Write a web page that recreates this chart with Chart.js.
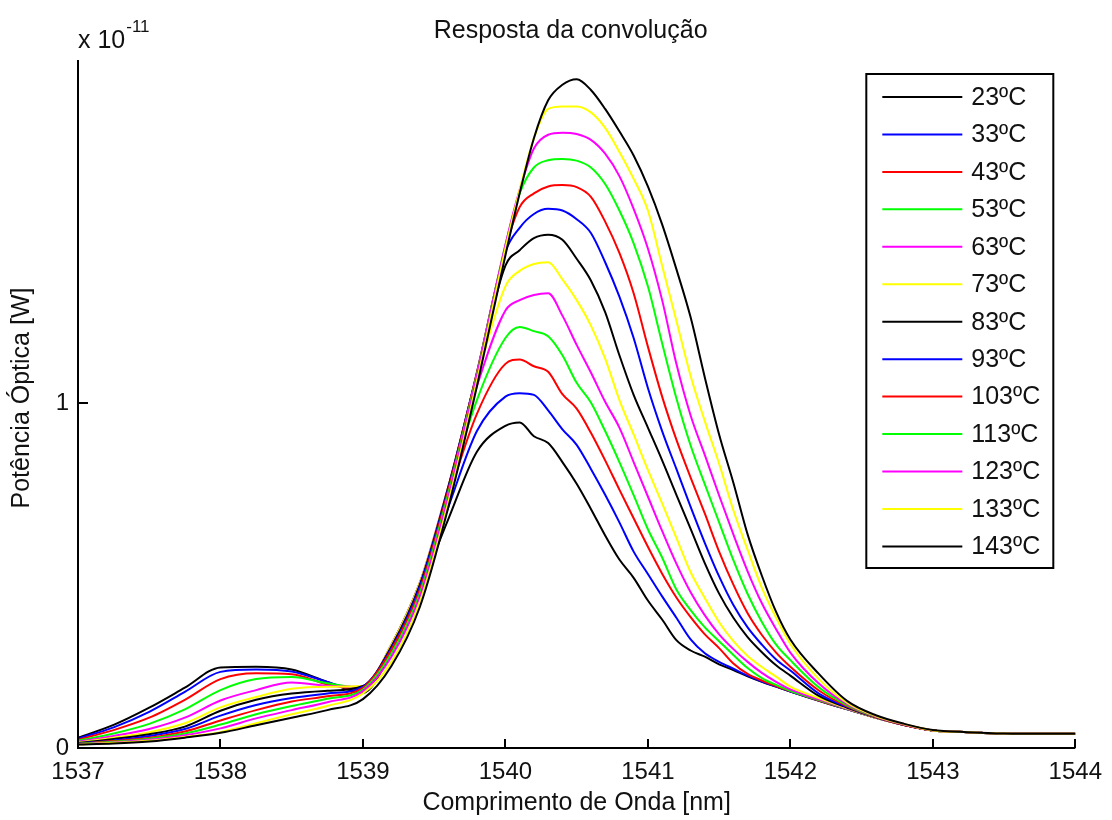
<!DOCTYPE html>
<html>
<head>
<meta charset="utf-8">
<script src="https://cdn.jsdelivr.net/npm/chart.js@4.4.1/dist/chart.umd.min.js"></script>
<style>
  html, body { margin: 0; padding: 0; background: #ffffff; }
  canvas { display: block; }
</style>
</head>
<body>
<canvas id="grafico" width="1112" height="820"></canvas>
<script>
// Comprimento de onda [nm]
const comprimentoOnda = [
  1537.0, 1537.25, 1537.5, 1537.75, 1538.0, 1538.25, 1538.5, 1538.75, 1539.0,
  1539.2, 1539.4, 1539.6, 1539.8, 1540.0, 1540.1, 1540.2, 1540.3, 1540.4, 1540.5,
  1540.6, 1540.7, 1540.8, 1540.9, 1541.0, 1541.1, 1541.2, 1541.3, 1541.4, 1541.5,
  1541.6, 1541.7, 1541.8, 1541.9, 1542.0, 1542.2, 1542.4, 1542.6, 1542.8,
  1543.0, 1543.25, 1543.5, 1543.75, 1544.0
];

// Potência óptica em unidades de 1e-11 W, uma série por temperatura
const p23 = [0.030, 0.067, 0.117, 0.175, 0.234, 0.236, 0.228, 0.192, 0.160,
  0.280, 0.460, 0.665, 0.860, 0.935, 0.945, 0.905, 0.885, 0.830, 0.767,
  0.694, 0.617, 0.547, 0.494, 0.428, 0.373, 0.313, 0.283, 0.265, 0.243,
  0.226, 0.208, 0.192, 0.178, 0.164, 0.137, 0.112, 0.088, 0.067,
  0.051, 0.046, 0.042, 0.041, 0.041];
const p33 = [0.027, 0.060, 0.105, 0.163, 0.221, 0.228, 0.222, 0.192, 0.165,
  0.290, 0.470, 0.700, 0.920, 1.020, 1.030, 1.025, 0.980, 0.925, 0.880,
  0.810, 0.735, 0.655, 0.570, 0.505, 0.440, 0.378, 0.315, 0.275, 0.250,
  0.230, 0.210, 0.193, 0.178, 0.164, 0.138, 0.112, 0.088, 0.067,
  0.051, 0.046, 0.042, 0.041, 0.041];
const p43 = [0.024, 0.052, 0.088, 0.140, 0.200, 0.217, 0.214, 0.185, 0.170,
  0.300, 0.480, 0.730, 0.970, 1.115, 1.128, 1.108, 1.092, 1.027, 0.985,
  0.915, 0.835, 0.750, 0.667, 0.584, 0.506, 0.437, 0.380, 0.330, 0.290,
  0.245, 0.215, 0.196, 0.180, 0.165, 0.138, 0.113, 0.088, 0.067,
  0.051, 0.046, 0.042, 0.041, 0.041];
const p53 = [0.021, 0.042, 0.070, 0.112, 0.168, 0.200, 0.206, 0.188, 0.175,
  0.300, 0.480, 0.750, 1.010, 1.190, 1.222, 1.210, 1.195, 1.140, 1.060,
  1.003, 0.920, 0.830, 0.734, 0.635, 0.553, 0.460, 0.400, 0.350, 0.310,
  0.270, 0.232, 0.203, 0.183, 0.166, 0.139, 0.113, 0.088, 0.067,
  0.051, 0.046, 0.042, 0.041, 0.041];
const p63 = [0.018, 0.035, 0.055, 0.088, 0.138, 0.168, 0.190, 0.180, 0.178,
  0.300, 0.480, 0.760, 1.050, 1.270, 1.300, 1.315, 1.320, 1.255, 1.170,
  1.090, 1.005, 0.930, 0.830, 0.730, 0.630, 0.535, 0.452, 0.385, 0.330,
  0.287, 0.250, 0.218, 0.192, 0.170, 0.141, 0.114, 0.088, 0.067,
  0.051, 0.046, 0.042, 0.041, 0.041];
const p73 = [0.016, 0.030, 0.046, 0.072, 0.118, 0.148, 0.172, 0.178, 0.180,
  0.300, 0.480, 0.760, 1.070, 1.340, 1.385, 1.405, 1.410, 1.360, 1.300,
  1.226, 1.130, 1.010, 0.910, 0.807, 0.710, 0.610, 0.510, 0.435, 0.365,
  0.310, 0.267, 0.235, 0.207, 0.178, 0.145, 0.115, 0.088, 0.067,
  0.051, 0.046, 0.042, 0.041, 0.041];
const p83 = [0.014, 0.026, 0.040, 0.062, 0.108, 0.140, 0.158, 0.166, 0.180,
  0.295, 0.475, 0.760, 1.085, 1.400, 1.445, 1.480, 1.490, 1.475, 1.420,
  1.357, 1.265, 1.140, 1.025, 0.930, 0.835, 0.735, 0.636, 0.536, 0.448,
  0.378, 0.322, 0.278, 0.240, 0.210, 0.151, 0.117, 0.089, 0.067,
  0.051, 0.046, 0.042, 0.041, 0.041];
const p93 = [0.013, 0.022, 0.035, 0.055, 0.094, 0.125, 0.145, 0.158, 0.178,
  0.290, 0.470, 0.755, 1.090, 1.440, 1.510, 1.550, 1.565, 1.560, 1.535,
  1.495, 1.410, 1.310, 1.190, 1.045, 0.920, 0.810, 0.700, 0.595, 0.498,
  0.415, 0.350, 0.300, 0.257, 0.225, 0.158, 0.119, 0.089, 0.067,
  0.051, 0.046, 0.042, 0.041, 0.041];
const p103 = [0.012, 0.020, 0.030, 0.048, 0.080, 0.110, 0.135, 0.150, 0.175,
  0.285, 0.460, 0.750, 1.090, 1.450, 1.570, 1.610, 1.630, 1.634, 1.628,
  1.600, 1.528, 1.437, 1.320, 1.165, 1.020, 0.895, 0.785, 0.680, 0.570,
  0.474, 0.391, 0.328, 0.277, 0.236, 0.167, 0.121, 0.090, 0.067,
  0.051, 0.046, 0.042, 0.041, 0.041];
const p113 = [0.012, 0.018, 0.027, 0.042, 0.068, 0.098, 0.122, 0.143, 0.170,
  0.275, 0.450, 0.740, 1.085, 1.460, 1.610, 1.685, 1.706, 1.710, 1.705,
  1.685, 1.637, 1.560, 1.465, 1.340, 1.175, 1.015, 0.878, 0.765, 0.655,
  0.545, 0.447, 0.366, 0.300, 0.255, 0.176, 0.124, 0.091, 0.068,
  0.051, 0.046, 0.042, 0.041, 0.041];
const p123 = [0.011, 0.016, 0.024, 0.037, 0.057, 0.086, 0.110, 0.133, 0.165,
  0.265, 0.440, 0.730, 1.080, 1.460, 1.620, 1.740, 1.780, 1.786, 1.782,
  1.765, 1.725, 1.660, 1.565, 1.450, 1.300, 1.115, 0.965, 0.850, 0.733,
  0.620, 0.513, 0.420, 0.345, 0.277, 0.187, 0.127, 0.092, 0.068,
  0.051, 0.046, 0.042, 0.041, 0.041];
const p133 = [0.010, 0.015, 0.021, 0.032, 0.046, 0.072, 0.098, 0.122, 0.158,
  0.250, 0.425, 0.715, 1.065, 1.450, 1.620, 1.770, 1.855, 1.862, 1.862,
  1.845, 1.800, 1.730, 1.652, 1.560, 1.400, 1.240, 1.080, 0.948, 0.825,
  0.690, 0.575, 0.465, 0.378, 0.302, 0.200, 0.131, 0.093, 0.069,
  0.051, 0.046, 0.042, 0.041, 0.041];
const p143 = [0.010, 0.013, 0.019, 0.030, 0.044, 0.066, 0.088, 0.110, 0.142,
  0.238, 0.410, 0.700, 1.050, 1.430, 1.610, 1.770, 1.880, 1.925, 1.941,
  1.910, 1.855, 1.790, 1.720, 1.630, 1.520, 1.390, 1.250, 1.075, 0.910,
  0.770, 0.620, 0.500, 0.395, 0.315, 0.215, 0.136, 0.095, 0.070,
  0.052, 0.046, 0.042, 0.041, 0.041];

const temperaturas = ['23ºC', '33ºC', '43ºC', '53ºC', '63ºC', '73ºC', '83ºC',
  '93ºC', '103ºC', '113ºC', '123ºC', '133ºC', '143ºC'];
const potencias = [p23, p33, p43, p53, p63, p73, p83, p93, p103, p113, p123, p133, p143];

// Eixos
const xMin = 1537, xMax = 1544, xPasso = 1;
const yMin = 0, yMax = 1.997, yPasso = 1;
const expoente = '-11';

// Ciclo de cores k b r g m y
const ciclo = ['#000000', '#0000ff', '#ff0000', '#00ff00', '#ff00ff', '#ffff00'];

const FONTE = "'Liberation Sans', Arial, Helvetica, sans-serif";
const TINTA = '#111111';

const datasets = potencias.map((serie, i) => ({
  label: temperaturas[i],
  data: serie.map((v, j) => ({ x: comprimentoOnda[j], y: v })),
  borderColor: ciclo[i % ciclo.length],
  borderWidth: 2,
  pointRadius: 0,
  fill: false,
  cubicInterpolationMode: 'monotone',
  order: potencias.length - i   // séries seguintes desenhadas por cima
}));

// Eixos, marcas internas, textos e legenda no estilo MATLAB
const estiloMatlab = {
  id: 'estiloMatlab',
  afterDraw(chart) {
    const { ctx, chartArea: a, scales: { x, y } } = chart;
    ctx.save();

    // linhas dos eixos (sem caixa)
    ctx.strokeStyle = '#000';
    ctx.lineWidth = 2;
    ctx.beginPath();
    ctx.moveTo(a.left, a.top);
    ctx.lineTo(a.left, a.bottom);
    ctx.lineTo(a.right, a.bottom);
    ctx.stroke();

    // marcas voltadas para dentro
    ctx.beginPath();
    x.ticks.forEach(t => {
      const px = Math.round(x.getPixelForValue(t.value));
      ctx.moveTo(px, a.bottom);
      ctx.lineTo(px, a.bottom - 9);
    });
    y.ticks.forEach(t => {
      const py = Math.round(y.getPixelForValue(t.value));
      ctx.moveTo(a.left, py);
      ctx.lineTo(a.left + 10, py);
    });
    ctx.stroke();

    ctx.fillStyle = TINTA;

    // título
    ctx.font = '25px ' + FONTE;
    ctx.textAlign = 'center';
    ctx.textBaseline = 'middle';
    ctx.fillText('Resposta da convolução', (a.left + a.right) / 2 - 6, 31);

    // rótulo do eixo x
    ctx.fillText('Comprimento de Onda [nm]', (a.left + a.right) / 2, 803);

    // rótulo do eixo y
    ctx.save();
    ctx.translate(22, (a.top + a.bottom) / 2 - 6);
    ctx.rotate(-Math.PI / 2);
    ctx.fillText('Potência Óptica [W]', 0, 0);
    ctx.restore();

    // fator de escala
    ctx.textAlign = 'left';
    ctx.textBaseline = 'alphabetic';
    ctx.font = '25px ' + FONTE;
    const base = 'x 10';
    ctx.fillText(base, a.left, 48);
    const w = ctx.measureText(base).width;
    ctx.font = '17px ' + FONTE;
    ctx.fillText(expoente, a.left + w + 1, 32);

    // legenda
    const lx0 = a.right - 209, lx1 = a.right - 22;
    const ly0 = a.top + 14, ly1 = a.top + 508;
    ctx.fillStyle = '#ffffff';
    ctx.fillRect(lx0, ly0, lx1 - lx0, ly1 - ly0);
    ctx.strokeStyle = '#000';
    ctx.lineWidth = 2;
    ctx.strokeRect(lx0, ly0, lx1 - lx0, ly1 - ly0);
    ctx.font = '25px ' + FONTE;
    ctx.textBaseline = 'middle';
    chart.data.datasets.forEach((ds, i) => {
      const ly = ly0 + 23 + i * 37.45;
      ctx.strokeStyle = ds.borderColor;
      ctx.lineWidth = 2;
      ctx.beginPath();
      ctx.moveTo(lx0 + 16, ly);
      ctx.lineTo(lx0 + 96, ly);
      ctx.stroke();
      ctx.fillStyle = TINTA;
      ctx.fillText(ds.label, lx0 + 105, ly + 1);
    });

    ctx.restore();
  }
};

new Chart(document.getElementById('grafico'), {
  type: 'line',
  data: { datasets },
  options: {
    responsive: false,
    devicePixelRatio: 1,
    animation: false,
    layout: { padding: { top: 60, right: 32, left: 0, bottom: 0 } },
    plugins: {
      legend: { display: false },
      title: { display: false },
      tooltip: { enabled: false }
    },
    scales: {
      x: {
        type: 'linear',
        min: xMin,
        max: xMax,
        grid: { display: false, drawTicks: false },
        border: { display: false },
        ticks: {
          stepSize: xPasso,
          padding: 10,
          color: TINTA,
          font: { family: FONTE, size: 24 },
          maxRotation: 0,
          callback: v => String(v)
        },
        afterFit: s => { s.height = 72; }
      },
      y: {
        type: 'linear',
        min: yMin,
        max: yMax,
        grid: { display: false, drawTicks: false },
        border: { display: false },
        ticks: {
          stepSize: yPasso,
          includeBounds: false,
          padding: 9,
          color: TINTA,
          font: { family: FONTE, size: 24 },
          callback: v => String(v)
        },
        afterFit: s => { s.width = 78; }
      }
    }
  },
  plugins: [estiloMatlab]
});
</script>
</body>
</html>
